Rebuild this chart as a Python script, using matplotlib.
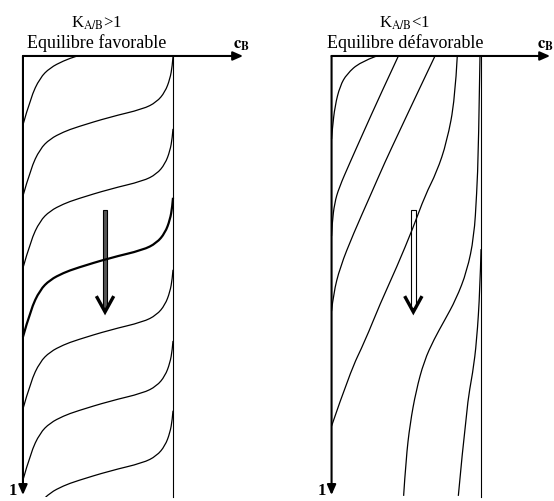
import numpy as np
import matplotlib
matplotlib.use('Agg')
import matplotlib.pyplot as plt
from matplotlib.path import Path
from matplotlib.patches import PathPatch, Rectangle

plt.rcParams['font.family'] = ['Liberation Serif', 'DejaVu Serif']
plt.rcParams['mathtext.fontset'] = 'stix'

# c = cB / c0 (0 -> 1), z = depth in column (0 at top, 1 at bottom)

# left panel: one self-sharpening front, shifted down in time
front_c = [0.0, 0.051, 0.113, 0.18, 0.27, 0.358, 0.58, 0.80, 0.891, 0.947, 0.98, 0.995, 1.0]
front_dz = [0, -0.062, -0.107, -0.130, -0.146, -0.157, -0.180, -0.198, -0.214, -0.237,
            -0.267, -0.296, -0.317]
front_z0 = [0.157, 0.319, 0.483, 0.640, 0.804, 0.966, 1.125]
bold_front = 3

# right panel: spreading fronts
A_c = [0.302, 0.191, 0.102, 0.057, 0.023, 0.005, 0.0]
A_z = [0.0, 0.014, 0.041, 0.068, 0.113, 0.166, 0.189]
B_c = [0.447, 0.324, 0.213, 0.124, 0.050, 0.020, 0.004, 0.0]
B_z = [0.0, 0.090, 0.174, 0.242, 0.300, 0.335, 0.380, 0.41]
C_c = [0.692, 0.565, 0.452, 0.358, 0.258, 0.146, 0.057, 0.012, 0.0]
C_z = [0.0, 0.091, 0.173, 0.241, 0.319, 0.405, 0.481, 0.542, 0.581]
D_c = [0.841, 0.826, 0.771, 0.704, 0.625, 0.547, 0.436, 0.324, 0.224, 0.124, 0.0]
D_z = [0.0, 0.098, 0.196, 0.264, 0.318, 0.390, 0.481, 0.565, 0.649, 0.720, 0.843]
E_c = [0.993, 0.983, 0.971, 0.953, 0.906, 0.833, 0.753, 0.686, 0.619, 0.565, 0.525,
       0.498, 0.482]
E_z = [0.0, 0.212, 0.314, 0.412, 0.490, 0.554, 0.604, 0.645, 0.695, 0.763, 0.838,
       0.918, 1.002]
F_c = [1.0, 0.993, 0.971, 0.945, 0.904, 0.848]
F_z = [0.440, 0.531, 0.649, 0.721, 0.797, 1.002]


def smooth_path(cs, zs):
    pts = np.column_stack([cs, zs])
    verts = [pts[0]]
    codes = [Path.MOVETO]
    for i in range(1, len(pts) - 1):
        end = pts[-1] if i == len(pts) - 2 else (pts[i] + pts[i + 1]) / 2
        verts += [pts[i], end]
        codes += [Path.CURVE3, Path.CURVE3]
    return Path(verts, codes)


def draw_curve(ax, cs, zs, lw=0.9):
    p = PathPatch(smooth_path(cs, zs), fill=False, lw=lw, ec='k', zorder=4,
                  capstyle='butt')
    ax.add_patch(p)
    clip = Rectangle((-0.02, 0), 1.04, 1.005, transform=ax.transData)
    p.set_clip_path(clip)


def frame(ax, title1, title2, axis_end, label_c):
    ax.plot([1, 1], [0, 1.005], color='k', lw=0.8, zorder=3)
    ax.annotate('', xy=(0, 1.0), xytext=(0, 0),
                arrowprops=dict(arrowstyle='-|>,head_length=0.5,head_width=0.22',
                                lw=1.5, color='k', mutation_scale=12,
                                shrinkA=0, shrinkB=0))
    ax.annotate('', xy=(axis_end, 0), xytext=(0, 0),
                arrowprops=dict(arrowstyle='-|>,head_length=0.5,head_width=0.22',
                                lw=1.5, color='k', mutation_scale=12,
                                shrinkA=0, shrinkB=0))
    ax.text(-0.065, 0.988, '1', fontsize=12, fontweight='bold', ha='center', va='center')
    ax.text(label_c, -0.027, r'$\mathbf{c_B}$', fontsize=12, ha='center', va='center')
    ax.text(0.49, -0.077, title1, fontsize=12, ha='center', va='center')
    ax.text(0.49, -0.031, title2, fontsize=13, ha='center', va='center')


def big_arrow(ax, fill):
    c, z_top, z_tip = 0.547, 0.350, 0.583
    ax.add_patch(Rectangle((c - 0.015, z_top), 0.03, z_tip - 0.01 - z_top,
                           fc=fill, ec='k', lw=0.8, zorder=2))
    ax.plot([c - 0.058, c, c + 0.058], [0.547, z_tip, 0.547], color='k', lw=2.4,
            solid_joinstyle='miter', solid_capstyle='butt', zorder=2)


fig = plt.figure(figsize=(5.54, 5.02), dpi=100)
ax1 = fig.add_axes([0, 0, 0.5, 1])
ax2 = fig.add_axes([0.5, 0, 0.5, 1])

ax1.set_xlim(-0.153, 1.693)
ax2.set_xlim(-0.365, 1.488)
for ax in (ax1, ax2):
    ax.set_ylim(1.0137, -0.1298)
    ax.axis('off')

frame(ax1, r'K$_{\mathrm{A/B}}$>1', 'Equilibre favorable', 1.467, 1.453)
frame(ax2, r'K$_{\mathrm{A/B}}$<1', 'Equilibre défavorable', 1.462, 1.43)

big_arrow(ax1, '#555555')
big_arrow(ax2, 'white')

for i, z0 in enumerate(front_z0):
    zs = [z0 + d for d in front_dz]
    draw_curve(ax1, front_c, zs, lw=1.6 if i == bold_front else 0.9)

for cs, zs in [(A_c, A_z), (B_c, B_z), (C_c, C_z), (D_c, D_z), (E_c, E_z), (F_c, F_z)]:
    draw_curve(ax2, cs, zs)

fig.savefig('out.png', dpi=100)
